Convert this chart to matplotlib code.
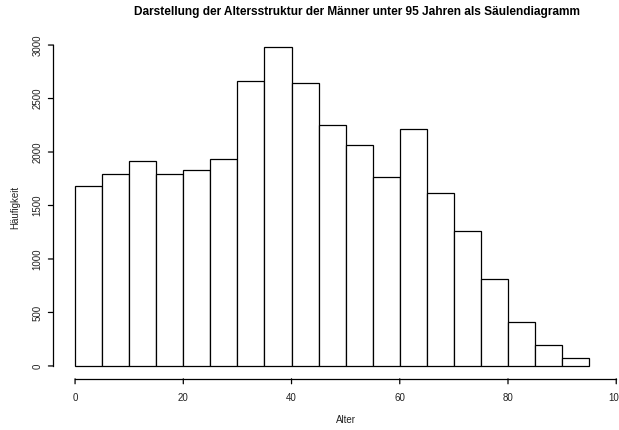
import matplotlib
matplotlib.use("Agg")
import matplotlib.pyplot as plt

# Altersklassen (5-Jahres-Intervalle) und Häufigkeiten
breaks = list(range(0, 100, 5))
counts = [1680, 1790, 1915, 1790, 1835, 1935, 2665, 2980, 2645, 2255,
          2070, 1765, 2215, 1620, 1265, 810, 410, 200, 70]
x_ticks = [0, 20, 40, 60, 80, 100]
y_ticks = [0, 500, 1000, 1500, 2000, 2500, 3000]

plt.rcParams['font.family'] = ['Liberation Sans', 'DejaVu Sans']

fig = plt.figure(figsize=(6.19, 4.30), dpi=100)
ax = fig.add_axes([0.0863, 0.1191, 0.9442, 0.806])
ax.set_xlim(-4, 104)
ax.set_ylim(-120, 3120)

lefts = breaks[:-1]
ax.bar(lefts, counts, width=5, align='edge', color='white',
       edgecolor='black', linewidth=0.9)

# R-artige abgesetzte Achsen
for s in ax.spines.values():
    s.set_visible(False)
ax.set_xticks([])
ax.set_yticks([])

ax.plot([x_ticks[0], x_ticks[-1]], [-120, -120], color='black', lw=0.9, clip_on=False)
ax.plot([-4, -4], [y_ticks[0], y_ticks[-1]], color='black', lw=0.9, clip_on=False)
for t in x_ticks:
    ax.annotate('', xy=(t, -120), xytext=(0, -5), textcoords='offset pixels',
                arrowprops=dict(arrowstyle='-', lw=0.9, color='black',
                                shrinkA=0, shrinkB=0), annotation_clip=False)
    ax.annotate(str(t), xy=(t, -120), xytext=(0, -19), textcoords='offset pixels',
                ha='center', va='center', fontsize=7, color='#222222',
                annotation_clip=False)
for t in y_ticks:
    ax.annotate('', xy=(-4, t), xytext=(-5, 0), textcoords='offset pixels',
                arrowprops=dict(arrowstyle='-', lw=0.9, color='black',
                                shrinkA=0, shrinkB=0), annotation_clip=False)
    ax.annotate(str(t), xy=(-4, t), xytext=(-16, 0), textcoords='offset pixels',
                ha='center', va='center', rotation=90, fontsize=7,
                color='#222222', annotation_clip=False)

fig.text(345.5 / 619, 1 - 420 / 430, 'Alter', ha='center', va='center',
         fontsize=7, color='#222222')
fig.text(15 / 619, 1 - 207 / 430, 'Häufigkeit', ha='center', va='center',
         rotation=90, fontsize=7, color='#222222')
fig.text(357.5 / 619, 1 - 12 / 430,
         'Darstellung der Altersstruktur der Männer unter 95 Jahren als Säulendiagramm',
         ha='center', va='center', fontsize=8.6, fontweight='bold')

fig.savefig('out.png', dpi=100)
